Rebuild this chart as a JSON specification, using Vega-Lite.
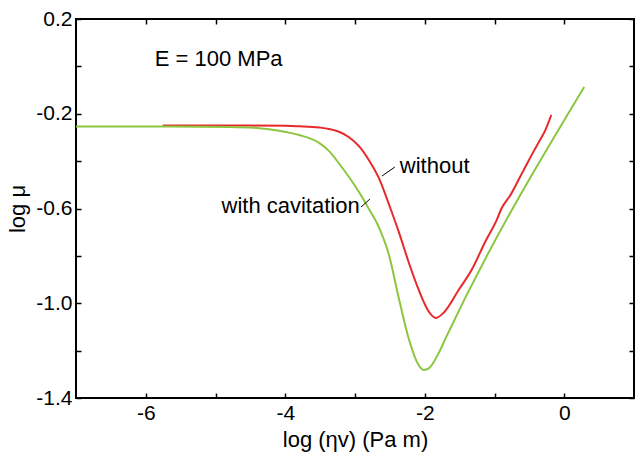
{
  "$schema": "https://vega.github.io/schema/vega-lite/v6.json",
  "width": 558,
  "height": 379,
  "autosize": {"type": "none"},
  "padding": {"left": 76, "top": 19, "right": 1, "bottom": 58},
  "background": "white",
  "config": {
    "view": {"stroke": "black", "strokeWidth": 2},
    "font": "Liberation Sans",
    "axis": {
      "grid": false,
      "domain": false,
      "tickColor": "black",
      "tickWidth": 1.5,
      "tickSize": -5,
      "labelFont": "Liberation Sans",
      "labelFontSize": 21,
      "labelColor": "black",
      "titleFont": "Liberation Sans",
      "titleFontSize": 22,
      "titleFontWeight": "normal",
      "titleColor": "black"
    }
  },
  "datasets": {
    "curves": [
      {"x": -5.757, "y": -0.250, "series": "without"},
      {"x": -5.23, "y": -0.250, "series": "without"},
      {"x": -4.51, "y": -0.250, "series": "without"},
      {"x": -3.99, "y": -0.251, "series": "without"},
      {"x": -3.80, "y": -0.253, "series": "without"},
      {"x": -3.514, "y": -0.258, "series": "without"},
      {"x": -3.371, "y": -0.264, "series": "without"},
      {"x": -3.229, "y": -0.276, "series": "without"},
      {"x": -3.086, "y": -0.299, "series": "without"},
      {"x": -2.943, "y": -0.337, "series": "without"},
      {"x": -2.80, "y": -0.396, "series": "without"},
      {"x": -2.657, "y": -0.472, "series": "without"},
      {"x": -2.514, "y": -0.582, "series": "without"},
      {"x": -2.371, "y": -0.700, "series": "without"},
      {"x": -2.229, "y": -0.828, "series": "without"},
      {"x": -2.086, "y": -0.944, "series": "without"},
      {"x": -1.943, "y": -1.035, "series": "without"},
      {"x": -1.843, "y": -1.062, "series": "without"},
      {"x": -1.729, "y": -1.040, "series": "without"},
      {"x": -1.514, "y": -0.944, "series": "without"},
      {"x": -1.329, "y": -0.860, "series": "without"},
      {"x": -1.129, "y": -0.738, "series": "without"},
      {"x": -0.971, "y": -0.650, "series": "without"},
      {"x": -0.90, "y": -0.600, "series": "without"},
      {"x": -0.771, "y": -0.543, "series": "without"},
      {"x": -0.657, "y": -0.480, "series": "without"},
      {"x": -0.543, "y": -0.416, "series": "without"},
      {"x": -0.443, "y": -0.361, "series": "without"},
      {"x": -0.371, "y": -0.323, "series": "without"},
      {"x": -0.271, "y": -0.269, "series": "without"},
      {"x": -0.186, "y": -0.205, "series": "without"},
      {"x": -7.0, "y": -0.254, "series": "with cavitation"},
      {"x": -5.943, "y": -0.254, "series": "with cavitation"},
      {"x": -4.8, "y": -0.256, "series": "with cavitation"},
      {"x": -4.371, "y": -0.261, "series": "with cavitation"},
      {"x": -4.086, "y": -0.272, "series": "with cavitation"},
      {"x": -3.8, "y": -0.290, "series": "with cavitation"},
      {"x": -3.514, "y": -0.323, "series": "with cavitation"},
      {"x": -3.371, "y": -0.358, "series": "with cavitation"},
      {"x": -3.229, "y": -0.410, "series": "with cavitation"},
      {"x": -3.086, "y": -0.467, "series": "with cavitation"},
      {"x": -2.943, "y": -0.530, "series": "with cavitation"},
      {"x": -2.80, "y": -0.602, "series": "with cavitation"},
      {"x": -2.657, "y": -0.680, "series": "with cavitation"},
      {"x": -2.514, "y": -0.795, "series": "with cavitation"},
      {"x": -2.371, "y": -0.980, "series": "with cavitation"},
      {"x": -2.229, "y": -1.150, "series": "with cavitation"},
      {"x": -2.086, "y": -1.262, "series": "with cavitation"},
      {"x": -2.014, "y": -1.282, "series": "with cavitation"},
      {"x": -1.943, "y": -1.275, "series": "with cavitation"},
      {"x": -1.80, "y": -1.210, "series": "with cavitation"},
      {"x": -1.70, "y": -1.147, "series": "with cavitation"},
      {"x": 0.286, "y": -0.087, "series": "with cavitation"}
    ],
    "labels": [
      {"x": -5.871, "y": 0.0, "text": "E = 100 MPa"},
      {"x": -2.357, "y": -0.450, "text": "without"},
      {"x": -4.914, "y": -0.619, "text": "with cavitation"}
    ],
    "leaders": [
      {"x": -2.614, "y": -0.463, "x2": -2.429, "y2": -0.425},
      {"x": -2.914, "y": -0.594, "x2": -2.786, "y2": -0.560}
    ]
  },
  "layer": [
    {
      "data": {"name": "curves"},
      "mark": {"type": "line", "strokeWidth": 2, "interpolate": "monotone"},
      "encoding": {
        "x": {
          "field": "x", "type": "quantitative",
          "scale": {"domain": [-7, 1], "nice": false, "zero": false},
          "axis": {
            "orient": "bottom",
            "title": "log (ηv) (Pa m)",
            "values": [-6, -5, -4, -3, -2, -1, 0],
            "labelExpr": "round(datum.value) % 2 == 0 ? replace(datum.label, '−', '-') : ''",
            "labelPadding": 9,
            "titlePadding": 6
          }
        },
        "y": {
          "field": "y", "type": "quantitative",
          "scale": {"domain": [-1.4, 0.2], "nice": false, "zero": false},
          "axis": {
            "orient": "left",
            "title": "log μ",
            "values": [0.2, 0.0, -0.2, -0.4, -0.6, -0.8, -1.0, -1.2, -1.4],
            "format": ".1f",
            "labelExpr": "abs(round((datum.value + 1.4) * 5)) % 2 == 0 ? replace(datum.label, '−', '-') : ''",
            "labelPadding": 9,
            "titlePadding": 6
          }
        },
        "color": {
          "field": "series", "type": "nominal",
          "scale": {"domain": ["without", "with cavitation"], "range": ["#E8282B", "#8CC63F"]},
          "legend": null
        }
      }
    },
    {
      "data": {"name": "curves"},
      "mark": {"type": "point", "opacity": 0},
      "encoding": {
        "x": {
          "field": "x", "type": "quantitative",
          "axis": {"orient": "top", "title": null, "labels": false, "values": [-6, -5, -4, -3, -2, -1, 0]}
        },
        "y": {
          "field": "y", "type": "quantitative",
          "axis": {"orient": "right", "title": null, "labels": false, "values": [0.2, 0.0, -0.2, -0.4, -0.6, -0.8, -1.0, -1.2, -1.4]}
        }
      }
    },
    {
      "data": {"name": "leaders"},
      "mark": {"type": "rule", "color": "black", "strokeWidth": 1},
      "encoding": {
        "x": {"field": "x", "type": "quantitative", "axis": null},
        "y": {"field": "y", "type": "quantitative", "axis": null},
        "x2": {"field": "x2"},
        "y2": {"field": "y2"}
      }
    },
    {
      "data": {"name": "labels"},
      "mark": {"type": "text", "align": "left", "baseline": "alphabetic", "fontSize": 22, "font": "Liberation Sans", "color": "black"},
      "encoding": {
        "x": {"field": "x", "type": "quantitative", "axis": null},
        "y": {"field": "y", "type": "quantitative", "axis": null},
        "text": {"field": "text"}
      }
    }
  ],
  "resolve": {"axis": {"x": "independent", "y": "independent"}}
}
